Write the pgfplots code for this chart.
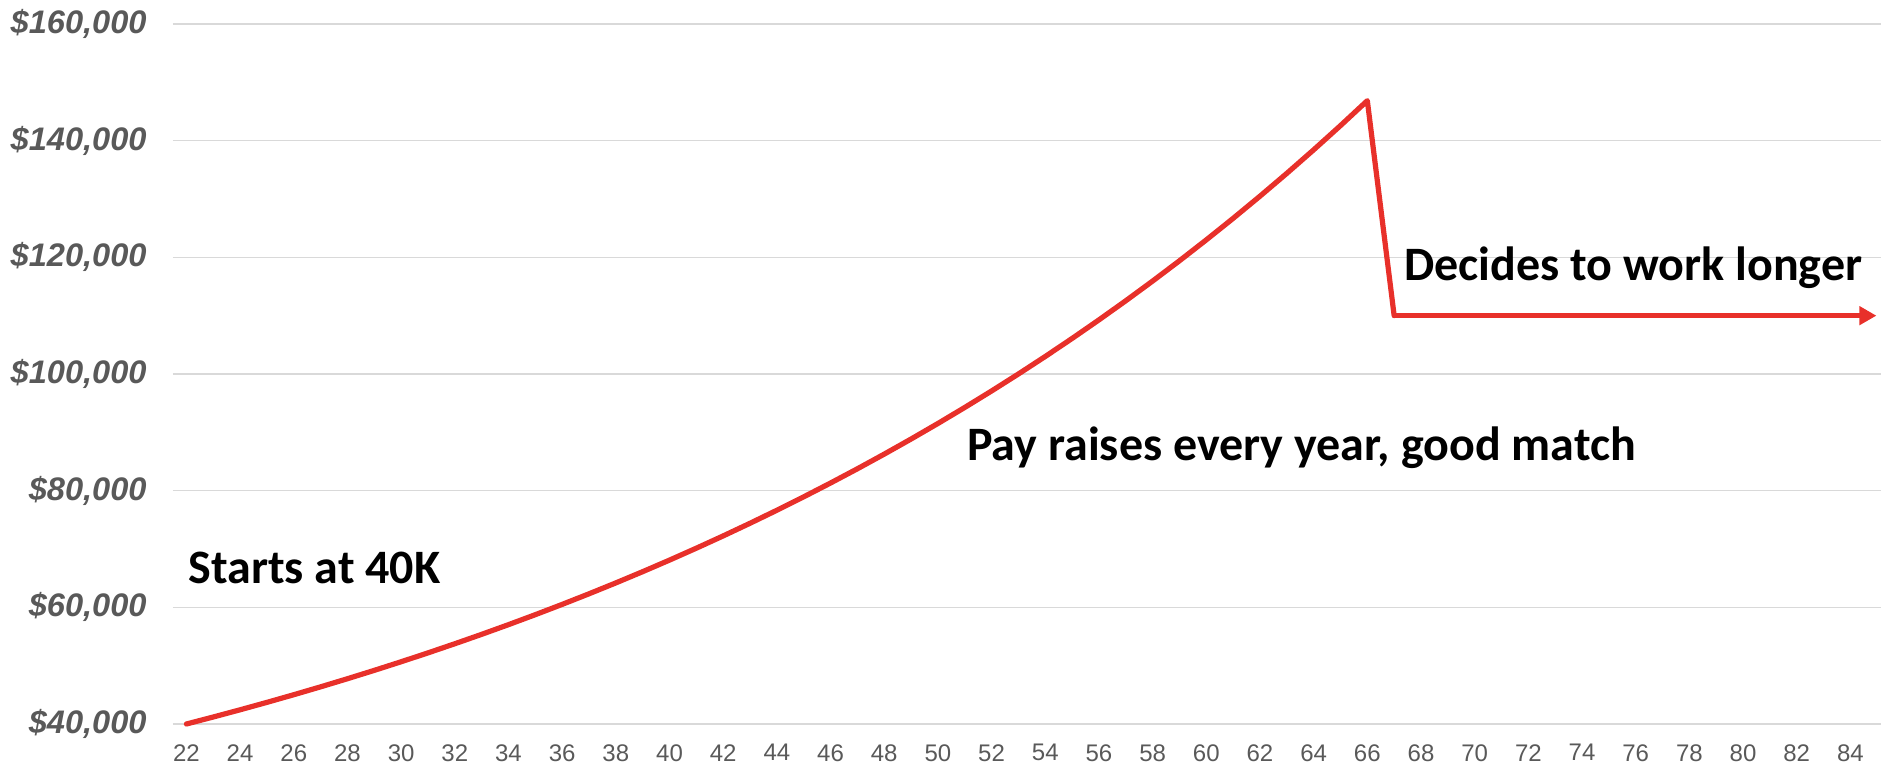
\documentclass[border=0pt]{standalone}
\usepackage{fontspec}
\setmainfont{Liberation Sans}
\newfontfamily\calibri{Carlito}
\usepackage{pgfplots}
\pgfplotsset{compat=1.18}
\usetikzlibrary{arrows.meta}
\definecolor{linered}{HTML}{E8302A}
\definecolor{gridgray}{HTML}{D9D9D9}
\definecolor{labelgray}{HTML}{595959}
\begin{document}
\begin{tikzpicture}
\begin{axis}[
  name=main,
  scale only axis,
  width=854pt, height=350pt,
  xmin=21.5, xmax=85.14,
  ymin=40000, ymax=160000,
  axis line style={draw=none},
  major tick length=0pt,
  scaled y ticks=false,
  xtick={22,24,...,84},
  ytick={40000,60000,80000,100000,120000,140000,160000},
  yticklabels={{\$40,000},{\$60,000},{\$80,000},{\$100,000},{\$120,000},{\$140,000},{\$160,000}},
  ymajorgrids,
  grid style={draw=gridgray, line width=0.8pt},
  xticklabel style={font=\fontsize{12}{14}\selectfont, text=labelgray, inner sep=0pt, anchor=north},
  yticklabel style={font=\fontsize{16.3}{19}\selectfont\bfseries\itshape, text=labelgray, inner sep=0pt, anchor=east},
  xticklabel shift=10pt,
  yticklabel shift=13pt,
  /pgf/number format/assume math mode=true,
  clip=false,
]
\addplot[linered, line width=2.6pt, line join=round, line cap=round] coordinates {
(22,40000) (23,41200) (24,42436) (25,43709) (26,45020) (27,46371) (28,47762) (29,49195)
(30,50671) (31,52191) (32,53757) (33,55369) (34,57030) (35,58741) (36,60504) (37,62319)
(38,64188) (39,66114) (40,68097) (41,70140) (42,72244) (43,74412) (44,76644) (45,78943)
(46,81312) (47,83751) (48,86264) (49,88851) (50,91517) (51,94263) (52,97090) (53,100003)
(54,103003) (55,106093) (56,109276) (57,112554) (58,115931) (59,119409) (60,122991)
(61,126681) (62,130482) (63,134396) (64,138428) (65,142581) (66,146858)
(67,110000)
};
\addplot[linered, line width=2.6pt, line cap=butt, -{Triangle[length=8.5pt,width=9pt]}] coordinates {
(67,110000) (68,110000) (70,110000) (75,110000) (80,110000) (84.97,110000)
};
\node[anchor=base west, inner sep=0pt, font=\fontsize{24}{28}\selectfont\calibri\bfseries] at (axis cs:22.06,64171) {Starts at 40K};
\node[anchor=base west, inner sep=0pt, font=\fontsize{24}{28}\selectfont\calibri\bfseries] at (axis cs:51.08,85086) {Pay raises every year, good match};
\node[anchor=base west, inner sep=0pt, font=\fontsize{24}{28}\selectfont\calibri\bfseries] at (axis cs:67.36,115943) {Decides to work longer};
\end{axis}
\pgfresetboundingbox
\path ([xshift=-86.5pt,yshift=-21pt]main.south west) rectangle ([yshift=12pt]main.north east);
\end{tikzpicture}
\end{document}
